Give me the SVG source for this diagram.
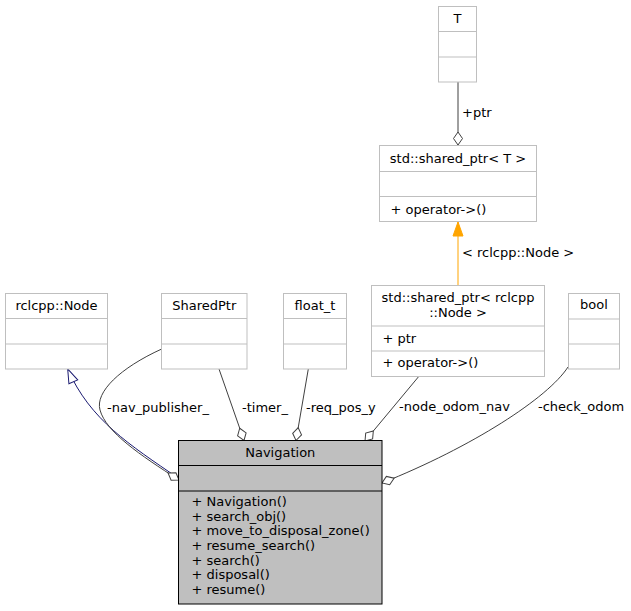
<svg xmlns="http://www.w3.org/2000/svg" width="631" height="611" viewBox="0 0 631 611">
  <style>
    text { font-family: "DejaVu Sans", "Liberation Sans", sans-serif; font-size: 13px; fill: #000; }
    .c { text-anchor: middle; }
    .box { fill: #fff; stroke: #bfbfbf; stroke-width: 1; }
    .main { fill: #bfbfbf; stroke: #000; stroke-width: 1; }
    .sep { stroke: #bfbfbf; stroke-width: 1; }
    .sepm { stroke: #000; stroke-width: 1; }
    .edge { fill: none; stroke: #404040; stroke-width: 1; }
    .inh { fill: none; stroke: #191970; stroke-width: 1; }
    .tmpl { fill: none; stroke: #ffa500; stroke-width: 1; }
  </style>
  <defs>
    <marker id="diamond" markerUnits="userSpaceOnUse" viewBox="-1 -6 15 12" refX="13" refY="0" markerWidth="15" markerHeight="12" orient="auto" overflow="visible">
      <path d="M0,0 L6.5,-4.5 L13,0 L6.5,4.5 Z" fill="#fff" stroke="#404040" stroke-width="1"/>
    </marker>
    <marker id="openTri" markerUnits="userSpaceOnUse" viewBox="-1 -6 15 12" refX="14" refY="0" markerWidth="15" markerHeight="12" orient="auto" overflow="visible">
      <path d="M0,-4.8 L14,0 L0,4.8 Z" fill="#fff" stroke="#191970" stroke-width="1"/>
    </marker>
    <marker id="fillTri" markerUnits="userSpaceOnUse" viewBox="-1 -6 15 12" refX="14" refY="0" markerWidth="15" markerHeight="12" orient="auto" overflow="visible">
      <path d="M0,-5 L14,0 L0,5 Z" fill="#ffa500" stroke="#ffa500" stroke-width="1"/>
    </marker>
  </defs>

  <!-- connectors -->
  <g id="edges">
    <path class="edge" d="M458,82 L458,145" marker-end="url(#diamond)"/>
    <text x="462" y="117">+ptr</text>

    <path class="tmpl" d="M458,285 L458,222" marker-end="url(#fillTri)"/>
    <text x="462" y="257">&lt; rclcpp::Node &gt;</text>

    <path class="inh" d="M178,478 C130,445 90,420 67.7,369" marker-end="url(#openTri)"/>

    <path class="edge" d="M161.7,349 C120,368 95,392 100,410 C106,432 140,455 179,480" marker-end="url(#diamond)"/>
    <text x="107" y="412">-nav_publisher_</text>

    <path class="edge" d="M219,369 L244,440.5" marker-end="url(#diamond)"/>
    <text x="242" y="412">-timer_</text>

    <path class="edge" d="M308.3,369 L296,440.5" marker-end="url(#diamond)"/>
    <text x="306" y="412">-req_pos_y</text>

    <path class="edge" d="M418.3,377 L365,441" marker-end="url(#diamond)"/>
    <text x="399" y="411">-node_odom_nav</text>

    <path class="edge" d="M568,367 C548,398 472,447 382,483" marker-end="url(#diamond)"/>
    <text x="538" y="411">-check_odom</text>
  </g>

  <!-- T -->
  <g id="node_T">
    <rect class="box" x="438.5" y="6.5" width="38" height="75.5"/>
    <line class="sep" x1="438.5" y1="31.5" x2="476.5" y2="31.5"/>
    <line class="sep" x1="438.5" y1="57" x2="476.5" y2="57"/>
    <text class="c" x="457.5" y="23">T</text>
  </g>

  <!-- std::shared_ptr< T > -->
  <g id="node_shared_ptr_T">
    <rect class="box" x="379.5" y="145.5" width="157" height="76"/>
    <line class="sep" x1="379.5" y1="171.5" x2="536.5" y2="171.5"/>
    <line class="sep" x1="379.5" y1="196.5" x2="536.5" y2="196.5"/>
    <text class="c" x="458" y="163">std::shared_ptr&lt; T &gt;</text>
    <text x="390.5" y="214">+ operator-&gt;()</text>
  </g>

  <!-- std::shared_ptr< rclcpp::Node > -->
  <g id="node_shared_ptr_node">
    <rect class="box" x="371.5" y="285.5" width="173" height="91"/>
    <line class="sep" x1="371.5" y1="326" x2="544.5" y2="326"/>
    <line class="sep" x1="371.5" y1="351" x2="544.5" y2="351"/>
    <text class="c" x="458" y="302">std::shared_ptr&lt; rclcpp</text>
    <text class="c" x="458" y="317">::Node &gt;</text>
    <text x="382.5" y="343">+ ptr</text>
    <text x="382.5" y="367">+ operator-&gt;()</text>
  </g>

  <!-- bool -->
  <g id="node_bool">
    <rect class="box" x="568.5" y="293.5" width="51" height="75.5"/>
    <line class="sep" x1="568.5" y1="319" x2="619.5" y2="319"/>
    <line class="sep" x1="568.5" y1="344" x2="619.5" y2="344"/>
    <text class="c" x="594" y="309">bool</text>
  </g>

  <!-- rclcpp::Node -->
  <g id="node_rclcpp_Node">
    <rect class="box" x="5.5" y="293.5" width="102" height="75.5"/>
    <line class="sep" x1="5.5" y1="318.5" x2="107.5" y2="318.5"/>
    <line class="sep" x1="5.5" y1="344" x2="107.5" y2="344"/>
    <text class="c" x="56.5" y="309.5">rclcpp::Node</text>
  </g>

  <!-- SharedPtr -->
  <g id="node_SharedPtr">
    <rect class="box" x="161.5" y="293.5" width="85.5" height="75.5"/>
    <line class="sep" x1="161.5" y1="318.5" x2="247" y2="318.5"/>
    <line class="sep" x1="161.5" y1="344" x2="247" y2="344"/>
    <text class="c" x="204.3" y="309.5">SharedPtr</text>
  </g>

  <!-- float_t -->
  <g id="node_float_t">
    <rect class="box" x="283.5" y="293.5" width="63" height="75.5"/>
    <line class="sep" x1="283.5" y1="318.5" x2="346.5" y2="318.5"/>
    <line class="sep" x1="283.5" y1="344" x2="346.5" y2="344"/>
    <text class="c" x="315" y="309.5">float_t</text>
  </g>

  <!-- Navigation -->
  <g id="node_Navigation">
    <rect class="main" x="178.5" y="440.5" width="203.5" height="163.5"/>
    <line class="sepm" x1="178.5" y1="465.5" x2="382" y2="465.5"/>
    <line class="sepm" x1="178.5" y1="491" x2="382" y2="491"/>
    <text class="c" x="280.3" y="457">Navigation</text>
    <text x="191.5" y="506">+ Navigation()</text>
    <text x="191.5" y="520.7">+ search_obj()</text>
    <text x="191.5" y="535.4">+ move_to_disposal_zone()</text>
    <text x="191.5" y="550">+ resume_search()</text>
    <text x="191.5" y="564.7">+ search()</text>
    <text x="191.5" y="579.4">+ disposal()</text>
    <text x="191.5" y="594">+ resume()</text>
  </g>
</svg>
